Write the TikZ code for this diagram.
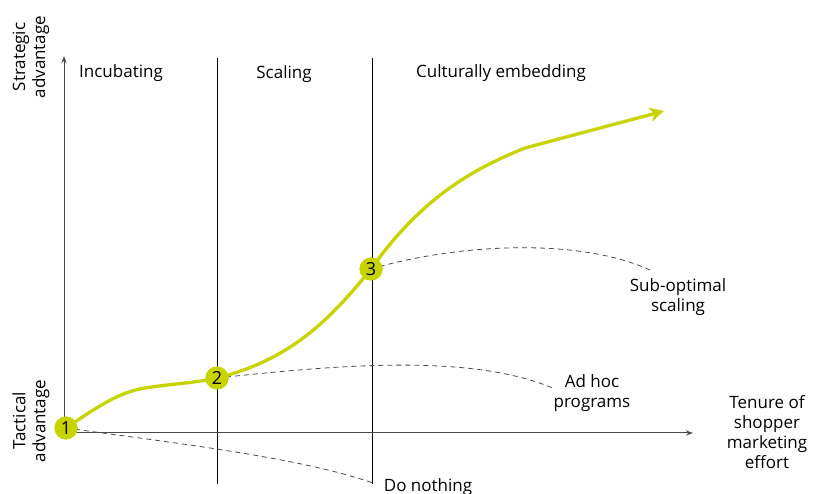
\documentclass[tikz,border=0pt]{standalone}
\usepackage{fontspec}
\setmainfont{Open Sans}
\usetikzlibrary{arrows.meta}
\definecolor{lime}{HTML}{C8D400}
\definecolor{axisgrey}{HTML}{4A4A4A}
\tikzset{
  txt/.style={font=\fontsize{17}{20}\selectfont, text=black, inner sep=0pt, align=center},
  stage/.style={draw=black, line width=0.9pt},
  axis/.style={draw=axisgrey, line width=1pt, -{Stealth[length=7pt,width=5pt]}},
  trend/.style={draw=lime, line width=3.3pt},
  alt/.style={draw=axisgrey, line width=0.8pt, dash pattern=on 5pt off 4pt},
  milestone/.style={circle, fill=lime, minimum size=23pt, inner sep=0pt,
    font=\fontsize{18}{20}\selectfont}
}
\begin{document}
\begin{tikzpicture}[x=1pt,y=-1pt]
\useasboundingbox (0,0) rectangle (823,494);

% stage dividers
\coordinate (s1t) at (217,58);  \coordinate (s1b) at (217,484);
\coordinate (s2t) at (372,58);  \coordinate (s2b) at (372,484);
\draw[stage] (s1t) -- (s1b);
\draw[stage] (s2t) -- (s2b);

% axes
\coordinate (origin) at (64,433);
\coordinate (ytop) at (64,56);
\coordinate (xend) at (693,433);
\draw[axis] (origin) -- (ytop);
\draw[axis] (origin) -- (xend);

% milestones
\node[milestone] (n1) at (66,428) {};
\node[milestone] (n2) at (217,378) {};
\node[milestone] (n3) at (371,269) {};

% alternative paths
\coordinate (e1) at (373,483);
\coordinate (e2) at (555,389);
\coordinate (e3) at (650,270);
\draw[alt] (n1.center) .. controls (190,445) and (300,458) .. (e1);
\draw[alt] (n2.center) .. controls (330,366) and (470,352) .. (e2);
\draw[alt] (n3.center) .. controls (460,243) and (580,238) .. (e3);

% main trajectory
\coordinate (k1) at (145,388);
\coordinate (k2) at (525,148);
\coordinate (tip) at (664,111);
\draw[trend] (n1.center) .. controls (100,405) and (120,392) .. (k1)
  .. controls (170,384) and (195,383) .. (n2.center)
  .. controls (290,360) and (330,320) .. (n3.center)
  .. controls (420,200) and (470,170) .. (k2);
\draw[trend, -{Stealth[length=14pt,width=14pt,inset=4pt]}] (k2) -- (tip);

% milestone discs on top
\node[milestone] at (n1) {1};
\node[milestone] at (n2) {2};
\node[milestone] at (n3) {3};

% stage titles
\node[txt] (t1) at (121,73) {Incubating};
\node[txt] (t2) at (284,74) {Scaling};
\node[txt] (t3) at (501,73) {Culturally embedding};

% axis labels
\node[txt, rotate=90] (ys) at (31,57) {Strategic\\advantage};
\node[txt, rotate=90] (yt) at (31,421) {Tactical\\advantage};
\node[txt] (xl) at (767,432) {Tenure of\\shopper\\marketing\\effort};

% path labels
\node[txt] (l1) at (428,487) {Do nothing};
\node[txt] (l2) at (592,393) {Ad hoc\\programs};
\node[txt] (l3) at (678,297) {Sub-optimal\\scaling};
\end{tikzpicture}
\end{document}
